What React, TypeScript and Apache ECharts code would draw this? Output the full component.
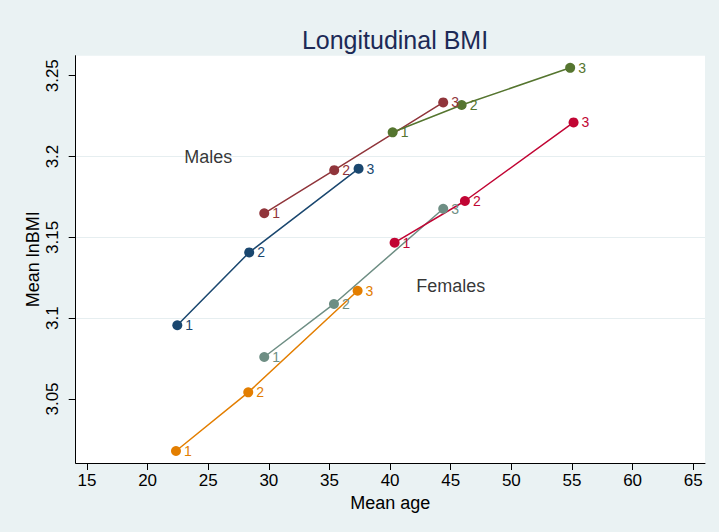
import React, { useEffect, useRef } from 'react';
import * as echarts from 'echarts';

const waves = ['1', '2', '3'];
const seriesNames = ['Males cohort 1', 'Males cohort 2', 'Males cohort 3', 'Females cohort 1', 'Females cohort 2', 'Females cohort 3'];
const seriesColors = ['#1a476f', '#90353b', '#55752f', '#e37e00', '#6e8e84', '#c10534'];

const maleAge1 = [22.45, 28.38, 37.4];
const maleBmi1 = [3.0956, 3.1407, 3.1925];
const maleAge2 = [29.62, 35.39, 44.38];
const maleBmi2 = [3.1649, 3.1916, 3.2335];
const maleAge3 = [40.21, 45.9, 54.85];
const maleBmi3 = [3.215, 3.2319, 3.2549];
const femAge1 = [22.34, 28.3, 37.32];
const femBmi1 = [3.0178, 3.0541, 3.117];
const femAge2 = [29.62, 35.37, 44.38];
const femBmi2 = [3.076, 3.1088, 3.1677];
const femAge3 = [40.37, 46.17, 55.13];
const femBmi3 = [3.1467, 3.1725, 3.2211];

const xTicks = [15, 20, 25, 30, 35, 40, 45, 50, 55, 60, 65];
const yTicks = [3.05, 3.1, 3.15, 3.2, 3.25];

const annotText = ['Males', 'Females'];
const annotX = [25, 45];
const annotY = [3.2, 3.12];

const ages = [maleAge1, maleAge2, maleAge3, femAge1, femAge2, femAge3];
const bmis = [maleBmi1, maleBmi2, maleBmi3, femBmi1, femBmi2, femBmi3];

const FONT = '"Liberation Sans", Arial, Helvetica, sans-serif';

export default function App() {
  const ref = useRef<HTMLDivElement>(null);
  useEffect(() => {
    if (!ref.current) return;
    const chart = echarts.init(ref.current, undefined, { renderer: 'svg' });
    const lineSeries = ages.map((a, i) => ({
      name: seriesNames[i],
      type: 'line',
      z: 3,
      data: a.map((x, j) => [x, bmis[i][j], waves[j]]),
      symbol: 'circle',
      symbolSize: 10,
      lineStyle: { color: seriesColors[i], width: 1.5 },
      itemStyle: { color: seriesColors[i] },
      label: {
        show: true,
        position: 'right',
        distance: 3,
        formatter: (p: any) => p.data[2],
        color: seriesColors[i],
        fontSize: 14,
        fontFamily: FONT,
      },
    }));
    chart.setOption({
      animation: false,
      backgroundColor: '#eaf2f3',
      title: {
        text: 'Longitudinal BMI',
        left: 390,
        textAlign: 'center',
        top: 22,
        textStyle: { color: '#1c2a56', fontSize: 25, fontWeight: 'normal', fontFamily: FONT },
      },
      grid: {
        left: 75.7,
        right: 14,
        top: 55.7,
        bottom: 69,
        show: true,
        backgroundColor: '#ffffff',
        borderWidth: 0,
      },
      xAxis: {
        type: 'value',
        min: 14.07,
        max: 65.97,
        name: 'Mean age',
        nameLocation: 'middle',
        nameGap: 29,
        nameTextStyle: { color: '#000', fontSize: 18, fontFamily: FONT },
        axisLine: { show: true, onZero: false, lineStyle: { color: '#000', width: 1 } },
        axisTick: { show: true, length: 7, customValues: xTicks, lineStyle: { color: '#000' } },
        axisLabel: { customValues: xTicks, color: '#000', fontSize: 17, fontFamily: FONT, margin: 9 },
        splitLine: { show: false },
      },
      yAxis: {
        type: 'value',
        min: 3.0104,
        max: 3.2624,
        splitNumber: 5,
        name: 'Mean lnBMI',
        nameLocation: 'middle',
        nameGap: 34,
        nameMoveOverlap: false,
        nameTextStyle: { color: '#000', fontSize: 18, fontFamily: FONT },
        axisLine: { show: true, onZero: false, lineStyle: { color: '#000', width: 1 } },
        axisTick: { show: true, length: 7, customValues: yTicks, lineStyle: { color: '#000' } },
        axisLabel: {
          customValues: yTicks,
          rotate: 90,
          color: '#000',
          fontSize: 17,
          fontFamily: FONT,
          margin: 15,
          formatter: (v: number) => String(v),
        },
        splitLine: {
          show: true,
          showMinLine: false,
          showMaxLine: false,
          lineStyle: { color: '#e6eef0', width: 1.2 },
        },
      },
      series: [
        ...lineSeries,
        {
          name: 'annotations',
          type: 'scatter',
          z: 4,
          symbolSize: 0,
          data: annotText.map((t, i) => [annotX[i], annotY[i], t]),
          label: {
            show: true,
            position: 'inside',
            formatter: (p: any) => p.data[2],
            color: '#000',
            fontSize: 18,
            fontFamily: FONT,
          },
        },
      ],
    });
    return () => chart.dispose();
  }, []);
  return <div ref={ref} style={{ position: 'fixed', left: 0, top: 0, width: 719, height: 532 }} />;
}
